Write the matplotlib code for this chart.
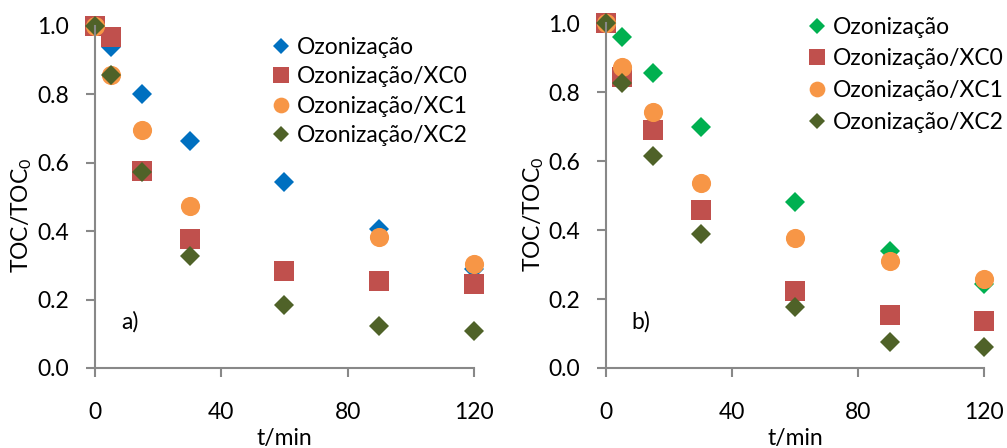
import matplotlib
matplotlib.use('Agg')
import matplotlib.pyplot as plt
import numpy as np

plt.rcParams['font.family'] = ['Lato', 'DejaVu Sans']
plt.rcParams['mathtext.fontset'] = 'custom'
plt.rcParams['mathtext.rm'] = 'Lato'

t = [0, 5, 15, 30, 60, 90, 120]
labels = ['Ozonização', 'Ozonização/XC0', 'Ozonização/XC1', 'Ozonização/XC2']

# panel a)
a_ozon = [1.0, 0.94, 0.80, 0.665, 0.543, 0.405, 0.29]
a_xc0 = [1.0, 0.967, 0.575, 0.378, 0.283, 0.255, 0.245]
a_xc1 = [1.0, 0.857, 0.696, 0.475, np.nan, 0.382, 0.304]
a_xc2 = [1.0, 0.857, 0.572, 0.327, 0.184, 0.123, 0.108]

# panel b)
b_ozon = [1.0, 0.959, 0.855, 0.700, 0.482, 0.340, 0.243]
b_xc0 = [1.0, 0.845, 0.690, 0.458, 0.223, 0.154, 0.137]
b_xc1 = [1.0, 0.874, 0.744, 0.536, 0.378, 0.310, 0.257]
b_xc2 = [1.0, 0.826, 0.616, 0.388, 0.178, 0.075, 0.062]

axis_gray = '#888888'
fs = 16.5

fig = plt.figure(figsize=(10.07, 4.48), dpi=100)
ax1 = fig.add_axes([0.0943, 0.1786, 0.3764, 0.7634])
ax2 = fig.add_axes([0.6018, 0.1786, 0.3754, 0.7694])


def draw_panel(ax, series, first_color, tag, leg_x, leg_y, leg_space):
    colors = [first_color, '#C0504D', '#F79646', '#4F6228']
    markers = ['D', 's', 'o', 'D']
    sizes = [10.2, 14.0, 13.8, 10.2]
    for y, c, m, ms, lab in zip(series, colors, markers, sizes, labels):
        ax.plot(t, y, linestyle='none', marker=m, markersize=ms, color=c,
                markeredgewidth=0, label=lab, clip_on=False)
    ax.set_xlim(0, 120)
    ax.set_ylim(0, 1.0)
    ax.set_xticks([0, 40, 80, 120])
    ax.set_yticks(np.arange(0, 1.01, 0.2))
    ax.yaxis.set_major_formatter(plt.FormatStrFormatter('%.1f'))
    for s in ['top', 'right']:
        ax.spines[s].set_visible(False)
    for s in ['left', 'bottom']:
        ax.spines[s].set_color(axis_gray)
        ax.spines[s].set_linewidth(1.5)
    ax.tick_params(axis='both', colors=axis_gray, labelcolor='black',
                   labelsize=fs, width=1.5, length=6.5)
    ax.tick_params(axis='x', pad=18)
    ax.tick_params(axis='y', pad=12)
    ax.set_xlabel('t/min', fontsize=fs)
    ax.xaxis.set_label_coords(0.5, -0.175)
    ax.set_ylabel('TOC/TOC$_\\mathregular{0}$', fontsize=fs)
    ax.yaxis.set_label_coords(-0.16, 0.447)
    ax.text(11, 0.135, tag, fontsize=fs, ha='center', va='center')
    ax.legend(loc='upper left', bbox_to_anchor=(leg_x, leg_y), frameon=False,
              fontsize=fs, handletextpad=0.0, handlelength=1.4,
              labelspacing=leg_space, markerscale=0.82, borderaxespad=0)


draw_panel(ax1, [a_ozon, a_xc0, a_xc1, a_xc2], '#0070C0', 'a)', 0.425, 0.995, 0.37)
draw_panel(ax2, [b_ozon, b_xc0, b_xc1, b_xc2], '#00B050', 'b)', 0.492, 1.046, 0.47)

fig.savefig('out.png', dpi=100)
